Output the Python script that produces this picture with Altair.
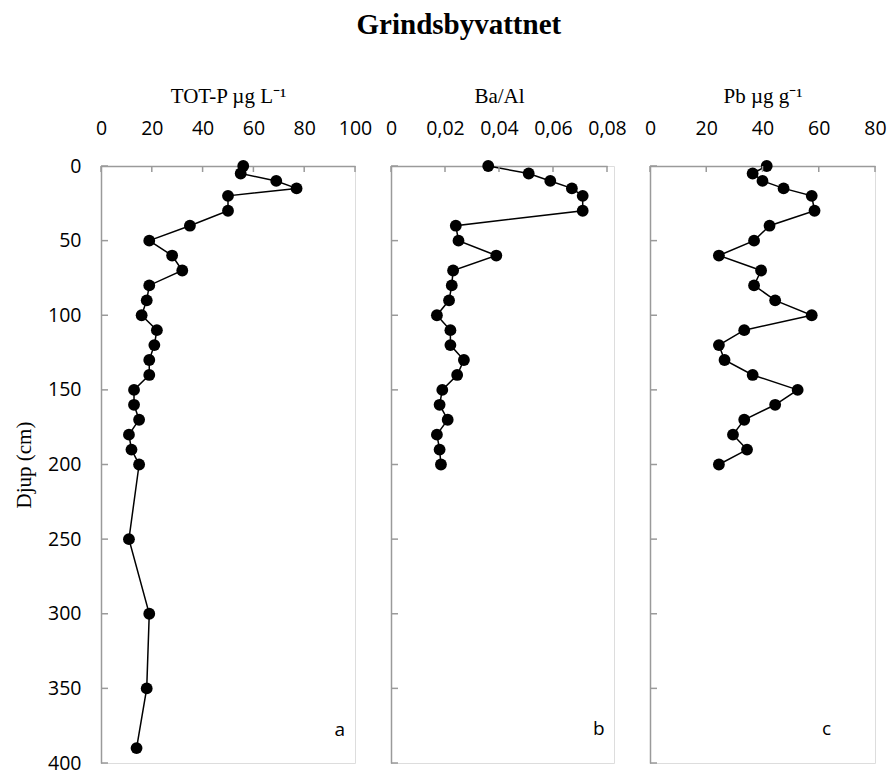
import altair as alt
import pandas as pd

# ---------------- data ----------------
depth_a = [0, 5, 10, 15, 20, 30, 40, 50, 60, 70, 80, 90, 100, 110, 120, 130, 140,
           150, 160, 170, 180, 190, 200, 250, 300, 350, 390]
totp = [56, 55, 69, 77, 50, 50, 35, 19, 28, 32, 19, 18, 16, 22, 21, 19, 19,
        13, 13, 15, 11, 12, 15, 11, 19, 18, 14]

depth_bc = [0, 5, 10, 15, 20, 30, 40, 50, 60, 70, 80, 90, 100, 110, 120, 130, 140,
            150, 160, 170, 180, 190, 200]
ba_al = [0.036, 0.051, 0.059, 0.067, 0.071, 0.071, 0.024, 0.025, 0.039, 0.023, 0.0225,
         0.0215, 0.017, 0.022, 0.022, 0.027, 0.0245, 0.019, 0.018, 0.021, 0.017, 0.018, 0.0185]
pb = [41.5, 36.5, 40, 47.5, 57.5, 58.5, 42.5, 37, 24.5, 39.5, 37, 44.5, 57.5, 33.5,
      24.5, 26.5, 36.5, 52.5, 44.5, 33.5, 29.5, 34.5, 24.5]

x_ticks_a = [0, 20, 40, 60, 80, 100]
x_ticks_b = [0, 0.02, 0.04, 0.06, 0.08]
x_ticks_c = [0, 20, 40, 60, 80]
y_ticks = [0, 50, 100, 150, 200, 250, 300, 350, 400]

titles = ["TOT-P µg L⁻¹", "Ba/Al", "Pb µg g⁻¹"]
letters = ["a", "b", "c"]
letter_x = [94, 0.0770, 62.8]
letter_depth = [378, 377, 377]

GRAY = "#9a9a9a"
SANS = "Open Sans"
SERIF = "Liberation Serif"
H = 597


def panel(depths, vals, xdomain, xticks, title, width, letter, lx, ly,
          show_y, label_expr=None, xrange=None):
    df = pd.DataFrame({"depth": depths, "val": vals})
    sk = dict(domain=xdomain, nice=False, zero=False)
    if xrange is not None:
        sk["range"] = xrange
    xscale = alt.Scale(**sk)
    yscale = alt.Scale(domain=[0, 400], reverse=True, nice=False, zero=False)

    ak = dict(orient="top", values=xticks, ticks=False, tickSize=0, grid=False,
              labelFlush=False, labelOverlap=False,
              domainColor=GRAY, domainWidth=1.5,
              labelFont=SANS, labelFontSize=19.5, labelColor="black", labelPadding=28,
              title=title, titleFont=SERIF, titleFontSize=21, titleFontWeight="normal",
              titleColor="black", titlePadding=12)
    if label_expr is not None:
        ak["labelExpr"] = label_expr
    xaxis = alt.Axis(**ak)

    if show_y:
        yaxis = alt.Axis(values=y_ticks, ticks=False, tickSize=0, grid=False,
                         labelFlush=False, labelOverlap=False,
                         domainColor=GRAY, domainWidth=1.5,
                         labelFont=SANS, labelFontSize=19.5, labelColor="black",
                         labelPadding=20, title="Djup (cm)", titleFont=SERIF,
                         titleFontSize=21, titleFontWeight="normal", titleColor="black",
                         titlePadding=13)
    else:
        yaxis = alt.Axis(values=y_ticks, ticks=False, tickSize=0, grid=False,
                         domainColor=GRAY, domainWidth=1.5, labels=False, title=None)

    base = alt.Chart(df)
    line = base.mark_line(color="black", strokeWidth=1.5).encode(
        x=alt.X("val:Q", scale=xscale, axis=xaxis),
        y=alt.Y("depth:Q", scale=yscale, axis=yaxis),
        order=alt.Order("depth:Q"),
    )
    pts = base.mark_circle(size=140, color="black", opacity=1).encode(
        x=alt.X("val:Q", scale=xscale),
        y=alt.Y("depth:Q", scale=yscale),
    )
    xt = alt.Chart(pd.DataFrame({"val": xticks})).mark_rule(
        color=GRAY, strokeWidth=1.5).encode(
        x=alt.X("val:Q", scale=xscale), y=alt.value(0), y2=alt.value(6))
    yt = alt.Chart(pd.DataFrame({"depth": y_ticks})).mark_rule(
        color=GRAY, strokeWidth=1.5).encode(
        y=alt.Y("depth:Q", scale=yscale), x=alt.value(0), x2=alt.value(7))
    txt = alt.Chart(pd.DataFrame({"t": [letter]})).mark_text(
        font=SANS, fontSize=19, color="black").encode(
        x=alt.XDatum(lx), y=alt.YDatum(ly), text="t:N")
    return alt.layer(line, pts, xt, yt, txt).properties(width=width, height=H)


pa = panel(depth_a, totp, [0, 100], x_ticks_a, titles[0], 254,
           letters[0], letter_x[0], letter_depth[0], True)
pb_chart = panel(depth_bc, ba_al, [0, 0.08], x_ticks_b, titles[1], 223,
                 letters[1], letter_x[1], letter_depth[1], False,
                 label_expr="datum.value == 0 ? '0' : replace(format(datum.value, '.2f'), '.', ',')",
                 xrange=[0, 216])
pc = panel(depth_bc, pb, [0, 80], x_ticks_c, titles[2], 225,
           letters[2], letter_x[2], letter_depth[2], False)

chart = alt.hconcat(pa, pb_chart, pc, spacing=36, bounds="flush").properties(
    title=alt.TitleParams("Grindsbyvattnet", font=SERIF, fontSize=29, fontWeight="bold",
                          anchor="middle", color="black", offset=45, dx=9),
    padding={"left": 13, "top": 10, "right": 0, "bottom": 5},
).configure_view(stroke=None).configure(background="white")

chart.save("out.html", embed_options={"renderer": "svg", "actions": False})
